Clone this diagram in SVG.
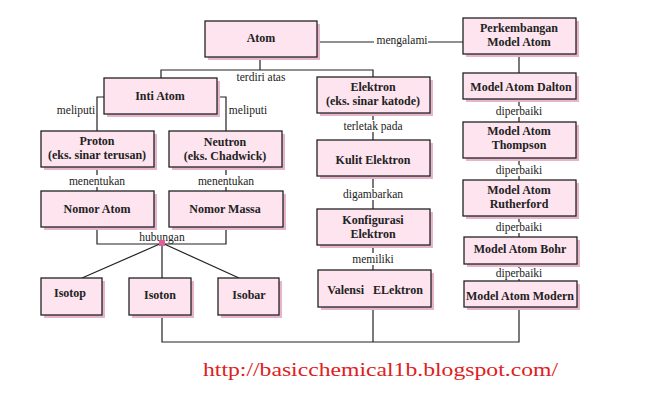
<svg xmlns="http://www.w3.org/2000/svg" width="664" height="401" viewBox="0 0 664 401">
<defs>
<style>
.sh{fill:#e8b4ca}
.bx{fill:#fde4ef;stroke:#222;stroke-width:1.3}
.t{font-weight:bold;font-size:12px;fill:#222;text-anchor:middle}
.l{font-size:11.5px;fill:#222;text-anchor:middle}
.c{fill:none;stroke:#222;stroke-width:1.2}
.lb{fill:#fff}
</style>
</defs>
<rect width="664" height="401" fill="#fff"/>
<g font-family="'Liberation Serif', 'Times New Roman', serif">
<g id="connectors">
<path class="c" d="M260,57V70M161,78V70H373V77"/>
<path class="c" d="M104,97H97V131M217,97H226V131"/>
<path class="c" d="M97,167V191M226,167V191"/>
<path class="c" d="M97,227V244H226V227"/>
<path class="c" d="M162,243L82,278M162,243V278M162,243L239,278" stroke-width="1"/>
<path class="c" d="M162,315V342H519V307M373,307V342"/>
<path class="c" d="M373,113V140M373,176V209M373,245V270"/>
<path class="c" d="M317,42H463"/>
<path class="c" d="M519,54V73M519,99V122M519,158V180M519,216V237M519,264V281"/>
<rect class="lb" x="235" y="71" width="52" height="12"/>
<rect class="lb" x="51" y="104" width="44" height="13"/>
<rect class="lb" x="228" y="104" width="44" height="13"/>
<rect class="lb" x="70" y="175" width="56" height="12"/>
<rect class="lb" x="198" y="175" width="56" height="12"/>
<rect class="lb" x="342" y="120" width="62" height="12"/>
<rect class="lb" x="346" y="188" width="54" height="12"/>
<rect class="lb" x="354" y="253" width="38" height="12"/>
<rect class="lb" x="374" y="35" width="54" height="12"/>
<rect class="lb" x="494" y="106" width="50" height="11"/>
<rect class="lb" x="494" y="165" width="50" height="11"/>
<rect class="lb" x="494" y="222" width="50" height="11"/>
<rect class="lb" x="494" y="268" width="50" height="11"/>
<text class="l" x="261" y="81">terdiri atas</text>
<text class="l" x="76" y="114">meliputi</text>
<text class="l" x="248" y="114">meliputi</text>
<text class="l" x="97" y="185">menentukan</text>
<text class="l" x="226" y="185">menentukan</text>
<text class="l" x="162" y="241">hubungan</text>
<rect x="159" y="240" width="6" height="6" fill="#e0609e"/>
<text class="l" x="373" y="130">terletak pada</text>
<text class="l" x="373" y="198">digambarkan</text>
<text class="l" x="373" y="263">memiliki</text>
<text class="l" x="402" y="44">mengalami</text>
<text class="l" x="519" y="115">diperbaiki</text>
<text class="l" x="519" y="174">diperbaiki</text>
<text class="l" x="519" y="231">diperbaiki</text>
<text class="l" x="519" y="277">diperbaiki</text>
</g>
<g id="atom"><rect class="sh" x="208" y="24" width="112" height="36"/><rect class="bx" x="205" y="21" width="112" height="36"/><text class="t" x="261" y="42">Atom</text></g>
<g id="inti"><rect class="sh" x="107" y="81" width="113" height="36"/><rect class="bx" x="104" y="78" width="113" height="36"/><text class="t" x="160" y="100">Inti Atom</text></g>
<g id="proton"><rect class="sh" x="44" y="134" width="113" height="36"/><rect class="bx" x="41" y="131" width="113" height="36"/><text class="t" x="97" y="145">Proton</text><text class="t" x="97" y="159">(eks. sinar terusan)</text></g>
<g id="neutron"><rect class="sh" x="172" y="134" width="113" height="36"/><rect class="bx" x="169" y="131" width="113" height="36"/><text class="t" x="225" y="146">Neutron</text><text class="t" x="225" y="160">(eks. Chadwick)</text></g>
<g id="nomoratom"><rect class="sh" x="44" y="194" width="113" height="36"/><rect class="bx" x="41" y="191" width="113" height="36"/><text class="t" x="97" y="213">Nomor Atom</text></g>
<g id="nomormassa"><rect class="sh" x="172" y="194" width="114" height="36"/><rect class="bx" x="169" y="191" width="114" height="36"/><text class="t" x="225" y="213">Nomor Massa</text></g>
<g id="isotop"><rect class="sh" x="44" y="281" width="61" height="37"/><rect class="bx" x="41" y="278" width="61" height="37"/><text class="t" x="70" y="297">Isotop</text></g>
<g id="isoton"><rect class="sh" x="132" y="281" width="62" height="37"/><rect class="bx" x="129" y="278" width="62" height="37"/><text class="t" x="160" y="299">Isoton</text></g>
<g id="isobar"><rect class="sh" x="221" y="281" width="61" height="37"/><rect class="bx" x="218" y="278" width="61" height="37"/><text class="t" x="249" y="299">Isobar</text></g>
<g id="elektron"><rect class="sh" x="320" y="80" width="113" height="36"/><rect class="bx" x="317" y="77" width="113" height="36"/><text class="t" x="373" y="91">Elektron</text><text class="t" x="373" y="105">(eks. sinar katode)</text></g>
<g id="kulit"><rect class="sh" x="320" y="143" width="113" height="36"/><rect class="bx" x="317" y="140" width="113" height="36"/><text class="t" x="373" y="164">Kulit Elektron</text></g>
<g id="konfigurasi"><rect class="sh" x="320" y="212" width="113" height="36"/><rect class="bx" x="317" y="209" width="113" height="36"/><text class="t" x="373" y="224">Konfigurasi</text><text class="t" x="373" y="238">Elektron</text></g>
<g id="valensi"><rect class="sh" x="321" y="273" width="113" height="37"/><rect class="bx" x="318" y="270" width="113" height="37"/><text class="t" x="375" y="294" xml:space="preserve" style="white-space:pre">Valensi   ELektron</text></g>
<g id="perkembangan"><rect class="sh" x="466" y="21" width="113" height="36"/><rect class="bx" x="463" y="18" width="113" height="36"/><text class="t" x="519" y="32">Perkembangan</text><text class="t" x="519" y="46">Model Atom</text></g>
<g id="dalton"><rect class="sh" x="466" y="76" width="113" height="26"/><rect class="bx" x="463" y="73" width="113" height="26"/><text class="t" x="521" y="91">Model Atom Dalton</text></g>
<g id="thompson"><rect class="sh" x="466" y="125" width="113" height="36"/><rect class="bx" x="463" y="122" width="113" height="36"/><text class="t" x="519" y="135">Model Atom</text><text class="t" x="519" y="149">Thompson</text></g>
<g id="rutherford"><rect class="sh" x="466" y="183" width="113" height="36"/><rect class="bx" x="463" y="180" width="113" height="36"/><text class="t" x="519" y="194">Model Atom</text><text class="t" x="519" y="208">Rutherford</text></g>
<g id="bohr"><rect class="sh" x="467" y="240" width="113" height="27"/><rect class="bx" x="464" y="237" width="113" height="27"/><text class="t" x="520" y="253">Model Atom Bohr</text></g>
<g id="modern"><rect class="sh" x="467" y="284" width="113" height="26"/><rect class="bx" x="464" y="281" width="113" height="26"/><text class="t" x="520" y="300">Model Atom Modern</text></g>
<text x="203" y="376" textLength="355" lengthAdjust="spacingAndGlyphs" font-size="19" fill="#e0201c">http://basicchemical1b.blogspot.com/</text>
</g>
</svg>
